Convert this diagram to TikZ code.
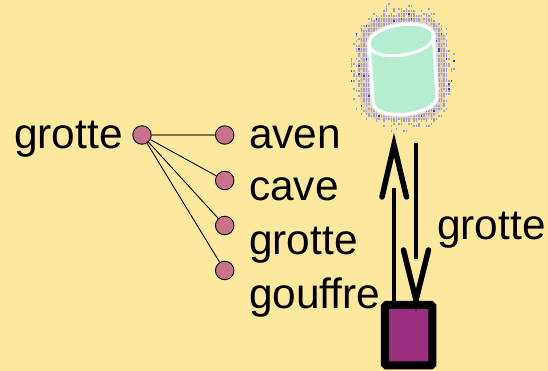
\documentclass[tikz,border=0pt]{standalone}
\usepackage{fontspec}
\setmainfont{Liberation Sans}
\definecolor{bgc}{HTML}{FDE8A0}
\definecolor{dotc}{HTML}{C87488}
\definecolor{boxc}{HTML}{9A2F80}
\definecolor{mint}{HTML}{B5EDD0}
\definecolor{halo}{HTML}{A8A0CC}
\definecolor{halob}{HTML}{4A40D8}
\definecolor{olive}{HTML}{7F7440}
\tikzset{
  dotn/.style={circle,draw=black,fill=dotc,line width=0.9pt,minimum size=18.5pt,inner sep=0pt},
  lab/.style={anchor=base west,inner sep=0pt,font=\fontsize{42.4}{44}\selectfont},
  link/.style={draw=black,line width=0.9pt},
  shaft/.style={line width=4pt},
  barb/.style={line width=5.5pt,line cap=round,line join=miter,miter limit=10},
  holder/.style={rectangle,draw=black,fill=boxc,line width=8pt,rounded corners=1.5pt,minimum width=47.5pt,minimum height=60.5pt,inner sep=0pt}
}
\begin{document}
\begin{tikzpicture}[x=1pt,y=-1pt]
\useasboundingbox[fill=bgc] (0,0) rectangle (548,371);
% halo
\fill[halo,opacity=.3,rounded corners=22pt] (360,18) rectangle (445,120);
\pgfmathsetseed{4711}
\foreach \i in {0,...,43}{
 \foreach \j in {0,...,52}{
  \pgfmathsetmacro{\px}{348+2.5*\i}
  \pgfmathsetmacro{\py}{3+2.5*\j}
  \pgfmathsetmacro{\dd}{(abs((\px-402)/55)^2.6+abs((\py-67)/66)^2.6)^(1/2.6)}
  \pgfmathsetmacro{\pr}{\dd<0.82?0.92:(\dd<1.0?(1.0-\dd)*3.2:0)}
  \pgfmathsetmacro{\ra}{rnd}
  \pgfmathsetmacro{\rb}{rnd}
  \pgfmathparse{\ra<\pr?1:0}
  \ifnum\pgfmathresult=1
    \pgfmathparse{\rb<0.07?1:0}
    \ifnum\pgfmathresult=1
      \fill[halob] (\px,\py) rectangle ++(1.8,1.8);
    \else
      \fill[halo] (\px,\py) rectangle ++(1.7,1.7);
    \fi
  \fi
 }
}
% cylinder
\draw[white,line width=5.5pt,opacity=.6,line join=round,fill=white] (369.3,45) -- (373.3,103) .. controls (376.4,122.8) and (439.8,114.8) .. (436.7,95) -- (433.3,35) .. controls (430.2,15.2) and (366.2,25.2) .. (369.3,45) -- cycle;
\draw[white,fill=mint,line width=3pt,line join=round] (369.3,45) -- (373.3,103) .. controls (376.4,122.8) and (439.8,114.8) .. (436.7,95) -- (433.3,35) .. controls (430.2,15.2) and (366.2,25.2) .. (369.3,45) -- cycle;
\draw[white,line width=3pt] (369.3,45) .. controls (372.4,64.8) and (436.4,54.8) .. (433.3,35);
% left graph
\node[dotn] (src) at (142,135) {};
\node[dotn] (r1) at (224.7,135) {};
\node[dotn] (r2) at (224.7,180.5) {};
\node[dotn] (r3) at (224.7,225.5) {};
\node[dotn] (r4) at (224.7,270.5) {};
\draw[draw=olive,line width=1.3pt] (src) -- (r1);
\draw[link] (src) -- (r2);
\draw[link] (src) -- (r3);
\draw[link] (src) -- (r4);
\node[lab] (t0) at (14,149) {grotte};
\node[lab] (t1) at (249,149) {aven};
\node[lab] (t2) at (249,201) {cave};
\node[lab] (t3) at (249,254) {grotte};
\node[lab] (t4) at (249,308) {gouffre};
\node[lab] (t5) at (437,240) {grotte};
% box and arrows
\node[holder] (box) at (408.7,335.2) {};
\coordinate (upS) at (394,301);
\coordinate (upE) at (394,188);
\coordinate (upT) at (394,145);
\coordinate (dnS) at (416,143);
\coordinate (dnE) at (416,259);
\coordinate (dnT) at (416,300);
\draw[shaft] (upS) -- (upE);
\draw[shaft] (dnS) -- (dnE);
\draw[barb] (382,197) -- (upT) -- (406.5,197);
\draw[barb] (403.5,250) -- (dnT) -- (428.5,250);
\end{tikzpicture}
\end{document}
